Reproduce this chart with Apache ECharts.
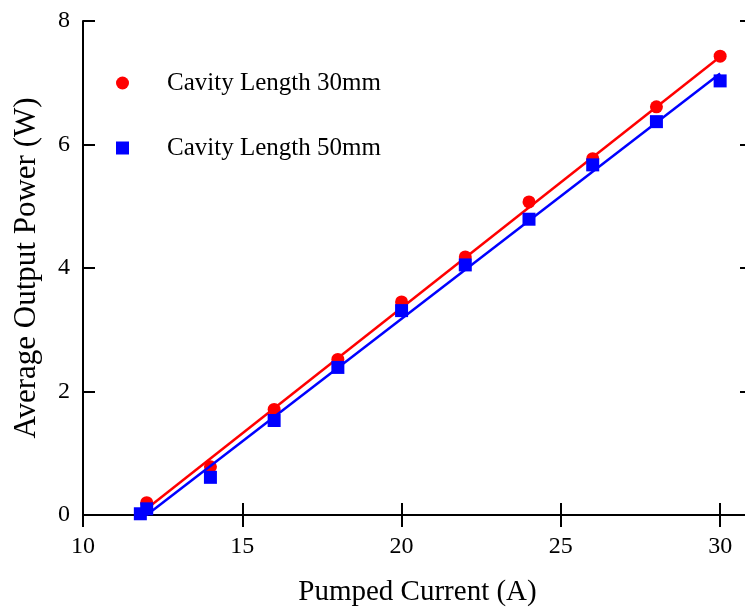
<!DOCTYPE html>
<html>
<head>
<meta charset="utf-8">
<script src="https://cdn.jsdelivr.net/npm/echarts@6/dist/echarts.min.js"></script>
<style>html,body{margin:0;padding:0;background:#fff;}#c{width:745px;height:615px;}</style>
</head>
<body>
<div id="c"></div>
<script>
var currentRed = [12, 14, 16, 18, 20, 22, 24, 26, 28, 30];
var powerRed = [0.2, 0.78, 1.71, 2.52, 3.45, 4.18, 5.07, 5.77, 6.61, 7.43];
var currentBlue = [11.8, 12, 14, 16, 18, 20, 22, 24, 26, 28, 30];
var powerBlue = [0.02, 0.1, 0.61, 1.53, 2.39, 3.31, 4.05, 4.79, 5.67, 6.37, 7.03];
var fitX = [12, 30];
var fitRed = [0.1, 7.42];
var fitBlue = [0.0, 7.15];
var nameRed = 'Cavity Length 30mm';
var nameBlue = 'Cavity Length 50mm';

function pairs(xs, ys) { return xs.map(function (x, i) { return [x, ys[i]]; }); }

var FONT = 'Liberation Serif';
var axisLineStyle = { color: '#000', width: 2 };
var chart = echarts.init(document.getElementById('c'));
var legendText = { color: '#000', fontFamily: FONT, fontSize: 25, padding: [0, 0, 0, 33], lineHeight: 30 };
chart.setOption({
  animation: false,
  backgroundColor: '#fff',
  grid: { left: 83, top: 21, width: 669, height: 494, containLabel: false, outerBoundsMode: 'none' },
  legend: [
    { data: [{ name: nameRed, icon: 'circle' }], left: 116, top: 68, padding: 0, itemWidth: 13, itemHeight: 13, textStyle: legendText },
    { data: [{ name: nameBlue, icon: 'rect' }], left: 116, top: 133, padding: 0, itemWidth: 13, itemHeight: 13, textStyle: legendText }
  ],
  xAxis: [
    {
      type: 'value', min: 10, max: 31, interval: 5, position: 'bottom',
      name: 'Pumped Current (A)', nameLocation: 'middle', nameGap: 63,
      nameTextStyle: { color: '#000', fontFamily: FONT, fontSize: 29 },
      axisLine: { lineStyle: axisLineStyle },
      axisTick: { inside: true, length: 12, lineStyle: axisLineStyle },
      axisLabel: { color: '#000', fontFamily: FONT, fontSize: 24, margin: 20, showMaxLabel: false },
      splitLine: { show: false }
    },
    {
      type: 'value', min: 10, max: 31, interval: 5, position: 'top',
      axisLine: { lineStyle: axisLineStyle },
      axisTick: { inside: true, length: 12, lineStyle: axisLineStyle },
      axisLabel: { show: false },
      splitLine: { show: false }
    }
  ],
  yAxis: [
    {
      type: 'value', min: 0, max: 8, interval: 2, position: 'left',
      name: 'Average Output Power (W)', nameLocation: 'middle', nameGap: 41,
      nameTextStyle: { color: '#000', fontFamily: FONT, fontSize: 31 },
      axisLine: { lineStyle: axisLineStyle },
      axisTick: { inside: true, length: 12, lineStyle: axisLineStyle },
      axisLabel: { color: '#000', fontFamily: FONT, fontSize: 24, margin: 13 },
      splitLine: { show: false }
    },
    {
      type: 'value', min: 0, max: 8, interval: 2, position: 'right',
      axisLine: { lineStyle: axisLineStyle },
      axisTick: { inside: true, length: 12, lineStyle: axisLineStyle },
      axisLabel: { show: false },
      splitLine: { show: false }
    }
  ],
  series: [
    {
      name: nameRed, type: 'scatter', symbol: 'circle', symbolSize: 13,
      itemStyle: { color: '#ff0000', opacity: 1 }, data: pairs(currentRed, powerRed), z: 2
    },
    {
      type: 'line', data: pairs(fitX, fitRed), showSymbol: false, symbol: 'none',
      lineStyle: { color: '#ff0000', width: 2.5 }, z: 3
    },
    {
      name: nameBlue, type: 'scatter', symbol: 'rect', symbolSize: 13,
      itemStyle: { color: '#0000ff', opacity: 1 }, data: pairs(currentBlue, powerBlue), z: 4
    },
    {
      type: 'line', data: pairs(fitX, fitBlue), showSymbol: false, symbol: 'none',
      lineStyle: { color: '#0000ff', width: 2.5 }, z: 5
    }
  ]
});
</script>
</body>
</html>
